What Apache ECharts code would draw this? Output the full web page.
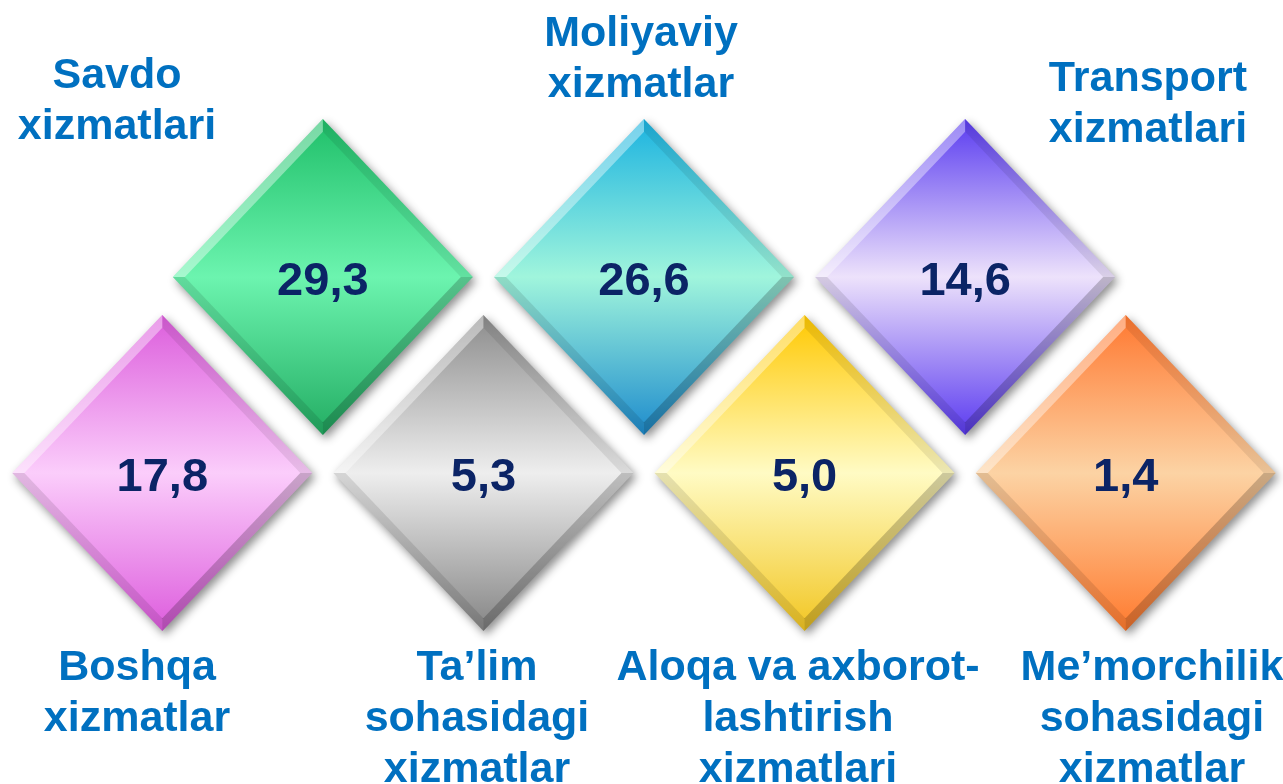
<!DOCTYPE html>
<html>
<head>
<meta charset="utf-8">
<script src="https://cdn.jsdelivr.net/npm/echarts@6/dist/echarts.min.js"></script>
<style>
  html, body { margin: 0; padding: 0; background: #fff; }
  #main { width: 1283px; height: 784px; }
</style>
</head>
<body>
<div id="main"></div>
<script>
// xizmatlar turlari (chapdan o'ngga)
var categories = [
  'Boshqa xizmatlar',
  'Savdo xizmatlari',
  'Ta’lim sohasidagi xizmatlar',
  'Moliyaviy xizmatlar',
  'Aloqa va axborot-lashtirish xizmatlari',
  'Transport xizmatlari',
  'Me’morchilik sohasidagi xizmatlar'
];
// ulushi, %
var values = [17.8, 29.3, 5.3, 26.6, 5.0, 14.6, 1.4];
// qator: 0 - pastki, 1 - yuqori
var rows = [0, 1, 0, 1, 0, 1, 0];
var rowNames = ['pastki', 'yuqori'];

// ranglar: yuqori, o'rta, pastki
var palette = [
  ['#dc5ddc', '#fbcdfb', '#dd5cdd'],
  ['#1fbf69', '#6cf4af', '#23ad63'],
  ['#8c8c8c', '#eeeeee', '#858585'],
  ['#1bb3e0', '#a0f5dc', '#1e8ccd'],
  ['#ffc800', '#fffbc4', '#f2c622'],
  ['#5a3cf0', '#ede2fb', '#5b3bf0'],
  ['#ff7830', '#fcd3a4', '#ff7a2e']
];

// yozuvlar (qatorlarga bo'lingan) va joylashuvi
var labelLines = [
  'Boshqa\nxizmatlar',
  'Savdo\nxizmatlari',
  'Ta’lim\nsohasidagi\nxizmatlar',
  'Moliyaviy\nxizmatlar',
  'Aloqa va axborot-\nlashtirish\nxizmatlari',
  'Transport\nxizmatlari',
  'Me’morchilik\nsohasidagi\nxizmatlar'
];
var labelPos = [
  [137, 694], [117, 102], [477, 719], [641, 60],
  [798, 719], [1148, 105], [1152, 719]
];

var seriesData = [];
for (var i = 0; i < values.length; i++) {
  seriesData.push([i, rows[i], values[i]]);
}

function fmt(v) {
  return v.toFixed(1).replace('.', ',');
}

function renderItem(params, api) {
  var idx = params.dataIndex;
  var c = api.coord([api.value(0), api.value(1)]);
  var hw = 150, hh = 158, b = 12;
  var k1 = (hw - b) / hw;
  var cx = c[0], cy = c[1];
  var T = [cx, cy - hh], R = [cx + hw, cy], B = [cx, cy + hh], L = [cx - hw, cy];
  var Ti = [cx, cy - hh * k1], Ri = [cx + hw * k1, cy], Bi = [cx, cy + hh * k1], Li = [cx - hw * k1, cy];
  var col = palette[idx];
  var grad = new echarts.graphic.LinearGradient(0, 0, 0, 1, [
    { offset: 0, color: col[0] },
    { offset: 0.5, color: col[1] },
    { offset: 1, color: col[2] }
  ]);
  return {
    type: 'group',
    children: [
      {
        type: 'polygon',
        shape: { points: [T, R, B, L] },
        style: {
          fill: grad,
          shadowBlur: 10,
          shadowOffsetX: 3,
          shadowOffsetY: 4,
          shadowColor: 'rgba(0,0,0,0.45)'
        }
      },
      { type: 'polygon', shape: { points: [L, T, Ti, Li] }, style: { fill: 'rgba(255,255,255,0.4)' } },
      { type: 'polygon', shape: { points: [T, R, Ri, Ti] }, style: { fill: 'rgba(0,0,0,0.08)' } },
      { type: 'polygon', shape: { points: [R, B, Bi, Ri] }, style: { fill: 'rgba(0,0,0,0.2)' } },
      { type: 'polygon', shape: { points: [B, L, Li, Bi] }, style: { fill: 'rgba(0,0,0,0.1)' } },
      {
        type: 'text',
        style: {
          x: cx,
          y: cy + 5,
          text: fmt(api.value(2)),
          fill: '#0b2466',
          font: 'bold 47px "Liberation Sans", Arial, sans-serif',
          align: 'center',
          verticalAlign: 'middle'
        }
      }
    ]
  };
}

var myChart = echarts.init(document.getElementById('main'));
var option = {
  backgroundColor: '#ffffff',
  animation: false,
  grid: { left: 82, right: 77, top: 179, bottom: 213 },
  xAxis: {
    type: 'category',
    data: categories,
    show: false
  },
  yAxis: {
    type: 'category',
    data: rowNames,
    show: false
  },
  series: [{
    type: 'custom',
    renderItem: renderItem,
    data: seriesData
  }],
  graphic: labelLines.map(function (t, j) {
    return {
      type: 'text',
      x: labelPos[j][0],
      y: labelPos[j][1],
      style: {
        text: t,
        fill: '#0070c0',
        font: 'bold 43px "Liberation Sans", Arial, sans-serif',
        lineHeight: 51,
        align: 'center',
        verticalAlign: 'middle'
      }
    };
  })
};
myChart.setOption(option);
</script>
</body>
</html>
